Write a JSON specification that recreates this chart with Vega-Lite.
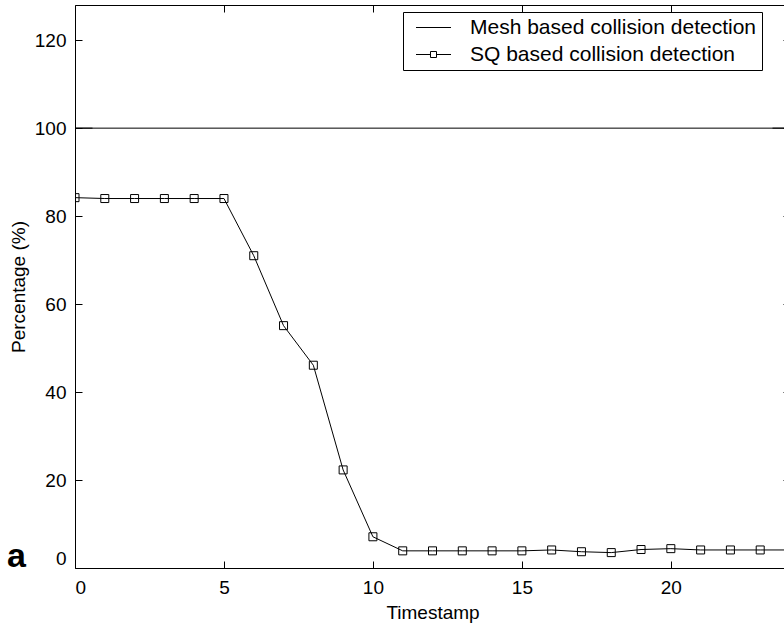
{
  "$schema": "https://vega.github.io/schema/vega-lite/v6.json",
  "width": 715,
  "height": 563,
  "autosize": {"type": "none"},
  "padding": {"left": 75, "top": 5, "right": 0, "bottom": 60},
  "background": "white",
  "config": {
    "view": {"stroke": "black", "strokeWidth": 1},
    "font": "Liberation Sans",
    "axis": {
      "domain": false,
      "grid": false,
      "tickColor": "black",
      "tickSize": -7,
      "tickWidth": 1,
      "labelColor": "black",
      "labelFont": "Liberation Sans",
      "labelFontSize": 19,
      "titleFont": "Liberation Sans",
      "titleFontSize": 19,
      "titleFontWeight": "normal",
      "titleColor": "black"
    }
  },
  "title": {
    "text": "a",
    "orient": "bottom",
    "anchor": "start",
    "frame": "group",
    "font": "Liberation Sans",
    "fontSize": 34,
    "fontWeight": "bold",
    "color": "black",
    "dx": -68,
    "dy": -86
  },
  "data": {
    "values": [
      {"series": "Mesh based collision detection", "t": 0, "pct": 100},
      {"series": "Mesh based collision detection", "t": 24, "pct": 100},
      {"series": "SQ based collision detection", "t": 0, "pct": 84.2},
      {"series": "SQ based collision detection", "t": 1, "pct": 84.0},
      {"series": "SQ based collision detection", "t": 2, "pct": 84.0},
      {"series": "SQ based collision detection", "t": 3, "pct": 84.0},
      {"series": "SQ based collision detection", "t": 4, "pct": 84.0},
      {"series": "SQ based collision detection", "t": 5, "pct": 84.0},
      {"series": "SQ based collision detection", "t": 6, "pct": 71.0},
      {"series": "SQ based collision detection", "t": 7, "pct": 55.1},
      {"series": "SQ based collision detection", "t": 8, "pct": 46.1},
      {"series": "SQ based collision detection", "t": 9, "pct": 22.3},
      {"series": "SQ based collision detection", "t": 10, "pct": 7.1},
      {"series": "SQ based collision detection", "t": 11, "pct": 3.9},
      {"series": "SQ based collision detection", "t": 12, "pct": 3.9},
      {"series": "SQ based collision detection", "t": 13, "pct": 3.9},
      {"series": "SQ based collision detection", "t": 14, "pct": 3.9},
      {"series": "SQ based collision detection", "t": 15, "pct": 3.9},
      {"series": "SQ based collision detection", "t": 16, "pct": 4.1},
      {"series": "SQ based collision detection", "t": 17, "pct": 3.7},
      {"series": "SQ based collision detection", "t": 18, "pct": 3.5},
      {"series": "SQ based collision detection", "t": 19, "pct": 4.2},
      {"series": "SQ based collision detection", "t": 20, "pct": 4.4},
      {"series": "SQ based collision detection", "t": 21, "pct": 4.1},
      {"series": "SQ based collision detection", "t": 22, "pct": 4.1},
      {"series": "SQ based collision detection", "t": 23, "pct": 4.1},
      {"series": "SQ based collision detection", "t": 24, "pct": 4.1}
    ]
  },
  "layer": [
    {
      "mark": {"type": "line", "color": "black", "strokeWidth": 1, "clip": true},
      "encoding": {
        "x": {
          "field": "t", "type": "quantitative",
          "scale": {"domain": [0, 24], "nice": false, "zero": false},
          "axis": {"orient": "bottom", "values": [0, 5, 10, 15, 20], "title": "Timestamp", "labelPadding": 17, "labelFlush": true, "titlePadding": 6}
        },
        "y": {
          "field": "pct", "type": "quantitative",
          "scale": {"domain": [0, 128], "nice": false},
          "axis": {"orient": "left", "values": [0, 20, 40, 60, 80, 100, 120], "title": "Percentage (%)", "labelPadding": 16, "labelFlush": true, "titlePadding": 6}
        },
        "detail": {"field": "series"}
      }
    },
    {
      "transform": [{"filter": "datum.series === 'SQ based collision detection'"}],
      "mark": {"type": "point", "shape": "square", "filled": false, "stroke": "black", "strokeWidth": 1, "size": 64, "opacity": 1, "clip": true},
      "encoding": {
        "x": {"field": "t", "type": "quantitative", "axis": {"orient": "top", "values": [0, 5, 10, 15, 20], "labels": false, "title": null}},
        "y": {"field": "pct", "type": "quantitative", "axis": {"orient": "right", "values": [0, 20, 40, 60, 80, 100, 120], "labels": false, "title": null}}
      }
    },
    {
      "transform": [{"filter": "datum.series === 'Mesh based collision detection'"}],
      "mark": {"type": "point", "filled": false, "stroke": "black", "strokeWidth": 1, "size": 196, "opacity": 1, "clip": true},
      "encoding": {
        "x": {"field": "t", "type": "quantitative", "axis": null},
        "y": {"field": "pct", "type": "quantitative", "axis": null},
        "shape": {
          "field": "series", "type": "nominal",
          "scale": {
            "domain": ["Mesh based collision detection", "SQ based collision detection"],
            "range": ["M-2.5,0H2.5", "M-2.5,0H-0.43M0.43,0H2.5M-0.43,-0.43H0.43V0.43H-0.43Z"]
          },
          "legend": {
            "title": null,
            "orient": "none",
            "legendX": 328,
            "legendY": 7,
            "padding": 5,
            "strokeColor": "black",
            "fillColor": "white",
            "cornerRadius": 0,
            "labelFont": "Liberation Sans",
            "labelFontSize": 21,
            "labelColor": "black",
            "labelLimit": 600,
            "labelOffset": 26,
            "symbolOffset": 15,
            "symbolSize": 196,
            "symbolStrokeColor": "black",
            "symbolFillColor": "transparent",
            "symbolStrokeWidth": 1,
            "symbolOpacity": 1,
            "rowPadding": 5
          }
        }
      }
    }
  ],
  "resolve": {"axis": {"x": "independent", "y": "independent"}}
}
